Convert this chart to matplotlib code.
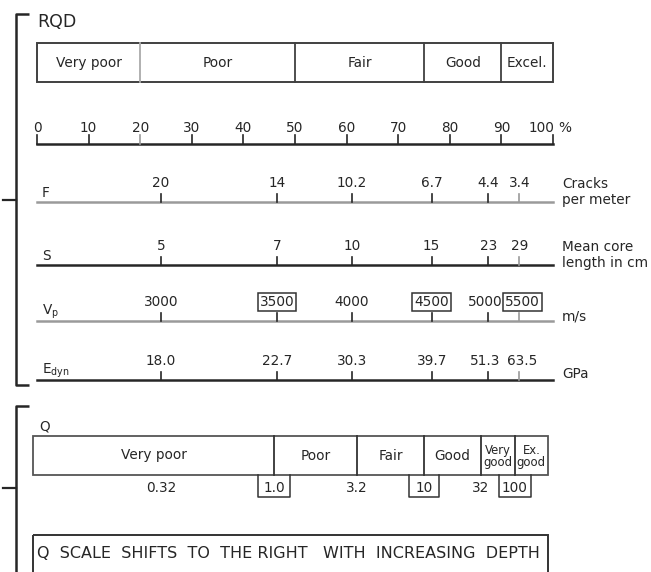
import matplotlib
matplotlib.use("Agg")
import matplotlib.pyplot as plt
from matplotlib.patches import Rectangle

plt.rcParams['font.family'] = ['DejaVu Sans']
plt.rcParams['mathtext.fontset'] = 'dejavusans'

# ---- RQD classification -------------------------------------------------
rqd_edges = [0, 20, 50, 75, 90, 100]
rqd_classes = ["Very poor", "Poor", "Fair", "Good", "Excel."]
rqd_ticks = [0, 10, 20, 30, 40, 50, 60, 70, 80, 90, 100]

# ---- correlated parameters, placed along the RQD axis -------------------
corr_rqd = [24, 46.5, 61, 76.5, 87.5, 93.5]
crack_freq = ["20", "14", "10.2", "6.7", "4.4", "3.4"]
core_length = ["5", "7", "10", "15", "23", "29"]
vp_values = ["3000", "3500", "4000", "4500", "5000", "5500"]
vp_boxed = [False, True, False, True, False, True]
edyn_values = ["18.0", "22.7", "30.3", "39.7", "51.3", "63.5"]

# ---- Q classification ---------------------------------------------------
q_rqd = [24, 46, 62, 75, 86, 92.6]
q_values = ["0.32", "1.0", "3.2", "10", "32", "100"]
q_boxed = [False, True, False, True, False, True]
q_span = [-0.8, 99]
q_classes = ["Very poor", "Poor", "Fair", "Good", "Very\ngood", "Ex.\ngood"]

# ---- figure: x in RQD %, y in rows measured from the top ----------------
W, H = 651, 572
fig = plt.figure(figsize=(W / 100, H / 100), dpi=100)
ax = fig.add_axes([0, 0, 1, 1])
x0_px, px_per_pct = 37, 5.16
ax.set_xlim(-x0_px / px_per_pct, (W - x0_px) / px_per_pct)
ax.set_ylim(H, 0)
ax.axis("off")


def px(p):
    return (p - x0_px) / px_per_pct


DARK = "#262626"
GREY = "#9a9a9a"
FS = 9.8

# brackets on the left
for top, bot, mid in [(14, 385, 200), (406, 580, 488)]:
    ax.plot([px(29), px(16), px(16), px(29)], [top, top, bot, bot],
            color=DARK, lw=1.8, solid_capstyle="butt")
    ax.plot([px(3), px(16)], [mid, mid], color=DARK, lw=1.6)

# RQD title and class bar
ax.text(0.0, 22, "RQD", fontsize=12.5, color=DARK, va="center", ha="left")
ax.add_patch(Rectangle((rqd_edges[0], 43), rqd_edges[-1] - rqd_edges[0], 39,
                       fill=False, ec="#404040", lw=1.4))
for i, e in enumerate(rqd_edges[1:-1]):
    ax.plot([e, e], [43, 82], color="#aaaaaa" if i == 0 else "#404040", lw=1.3)
for a, b, lab in zip(rqd_edges[:-1], rqd_edges[1:], rqd_classes):
    ax.text((a + b) / 2, 63, lab, fontsize=FS, ha="center", va="center", color=DARK)

# RQD percentage axis
ax_y = 144
ax.plot([0, 100], [ax_y, ax_y], color=DARK, lw=1.8)
for t in rqd_ticks:
    ax.plot([t, t], [ax_y - 9, ax_y], color=GREY if t in (20,) else DARK, lw=1.2)
    if t == rqd_ticks[-1]:
        ax.text(t + 0.2, ax_y - 16, str(t), fontsize=FS, ha="right", va="center",
                color=DARK)
    else:
        ax.text(t, ax_y - 16, str(t), fontsize=FS, ha="center", va="center",
                color=DARK)
ax.text(rqd_ticks[-1] + 1.0, ax_y - 16, "%", fontsize=FS, ha="left", va="center",
        color=DARK)

# small sideways nudges (in px) for crowded labels at the right end
crowd_nudge = {4: -3.5, 5: 3.0}


def scale_row(y, labels, line_color, name, unit, boxed=None):
    ax.plot([0, 100], [y, y], color=line_color, lw=1.8)
    for i, (x, lab) in enumerate(zip(corr_rqd, labels)):
        ax.plot([x, x], [y - 8, y], color=GREY if i == len(labels) - 1 else DARK, lw=1.2)
        bbox = None
        if boxed is not None and boxed[i]:
            bbox = dict(boxstyle="square,pad=0.15", fc="white", ec="#333333", lw=1.1)
        shift = crowd_nudge.get(i, 0) / px_per_pct if len(lab) >= 4 else 0
        ax.text(x + shift, y - 19, lab, fontsize=FS, ha="center", va="center",
                color=DARK, bbox=bbox)
    ax.text(px(42), y - 9, name, fontsize=FS, ha="left", va="center", color=DARK)
    ax.text(px(562), y - 10, unit, fontsize=FS, ha="left", va="center",
            color=DARK, linespacing=1.1)


scale_row(202, crack_freq, GREY, "F", "Cracks\nper meter")
scale_row(265, core_length, DARK, "S", "Mean core\nlength in cm")
scale_row(321, vp_values, GREY, r"V$_\mathregular{p}$", "", boxed=vp_boxed)
ax.text(px(562), 316, "m/s", fontsize=FS, ha="left", va="center", color=DARK)
scale_row(380, edyn_values, DARK, r"E$_\mathregular{dyn}$", "")
ax.text(px(562), 374, "GPa", fontsize=FS, ha="left", va="center", color=DARK)

# Q classification bar
ax.text(px(45), 426, "Q", fontsize=FS, ha="center", va="center", color=DARK)
q_top, q_bot = 436, 475
q_edges = [q_span[0]] + q_rqd[1:] + [q_span[1]]
ax.add_patch(Rectangle((q_span[0], q_top), q_span[1] - q_span[0], q_bot - q_top,
                       fill=False, ec="#555555", lw=1.3))
for e in q_rqd[1:]:
    ax.plot([e, e], [q_top, q_bot], color="#333333", lw=1.3)
for i, (a, b, lab) in enumerate(zip(q_edges[:-1], q_edges[1:], q_classes)):
    small = "\n" in lab
    ax.text((a + b) / 2, (q_top + q_bot) / 2 + (1 if small else 0), lab,
            fontsize=8.4 if small else FS, ha="center", va="center",
            color=DARK, linespacing=0.9)

# Q values below the bar
for x, lab, boxed in zip(q_rqd, q_values, q_boxed):
    ax.text(x, 488, lab, fontsize=FS, ha="center", va="center", color=DARK)
    if boxed:
        half = 2.9 if len(lab) <= 2 else 3.1
        ax.plot([x - half, x - half, x + half, x + half], [q_bot, 497, 497, q_bot],
                color="#333333", lw=1.1)

# note box
ax.add_patch(Rectangle((q_span[0], 535), q_span[1] - q_span[0], 60,
                       fill=False, ec="#333333", lw=1.4))
ax.text(px(37), 554, "Q  SCALE  SHIFTS  TO  THE RIGHT   WITH  INCREASING  DEPTH",
        fontsize=11.5, ha="left", va="center", color=DARK)

fig.savefig("out.png", dpi=100, facecolor="white")
